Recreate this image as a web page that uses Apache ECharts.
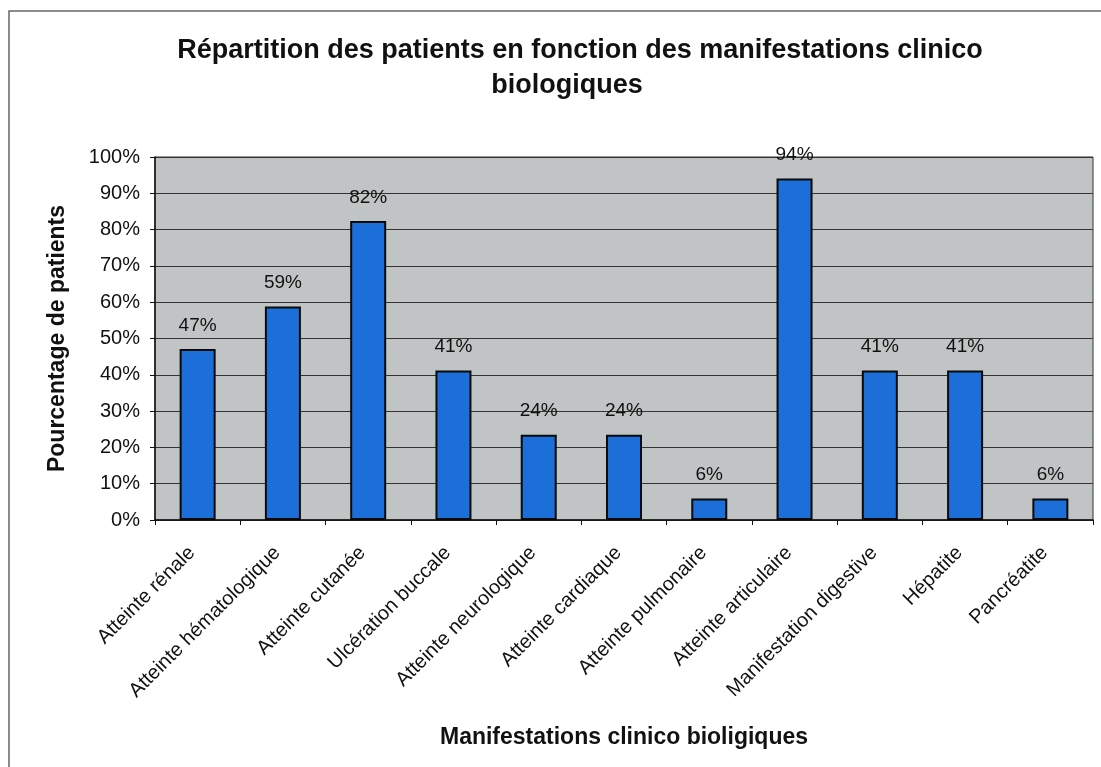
<!DOCTYPE html>
<html>
<head>
<meta charset="utf-8">
<script src="https://cdn.jsdelivr.net/npm/echarts@6/dist/echarts.min.js"></script>
<style>
  html, body { margin: 0; padding: 0; background: #fff; }
  #chart { width: 1101px; height: 767px; }
</style>
</head>
<body>
<div id="chart"></div>
<script>
// catégories et pourcentages (17 patients)
const categories = [
  'Atteinte rénale', 'Atteinte hématologique', 'Atteinte cutanée', 'Ulcération buccale',
  'Atteinte neurologique', 'Atteinte cardiaque', 'Atteinte pulmonaire', 'Atteinte articulaire',
  'Manifestation digestive', 'Hépatite', 'Pancréatite'
]
const percentages = [47.1, 58.8, 82.4, 41.2, 23.5, 23.5, 5.9, 94.1, 41.2, 41.2, 5.9]
const yTicks = [0, 10, 20, 30, 40, 50, 60, 70, 80, 90, 100]

const chart = echarts.init(document.getElementById('chart'))

const font = 'Arial, "Liberation Sans", sans-serif'
const titleStyle = { fontFamily: font, fontSize: 27, fontWeight: 'bold', color: '#111' }

const option = {
  backgroundColor: '#fff',
  animation: false,
  // titre sur deux lignes
  title: [
    { text: 'Répartition des patients en fonction des manifestations clinico', left: 575, top: 32, textAlign: 'center', textStyle: titleStyle },
    { text: 'biologiques', left: 562, top: 67, textAlign: 'center', textStyle: titleStyle }
  ],
  graphic: [
    {
      type: 'rect',
      shape: { x: 9, y: 11, width: 1200, height: 900 },
      style: { fill: 'none', stroke: '#666', lineWidth: 1.5 },
      silent: true
    }
  ],
  grid: {
    left: 155,
    right: 8,
    top: 157,
    bottom: 247,
    show: true,
    backgroundColor: '#c1c4c4',
    borderColor: '#333',
    borderWidth: 1
  },
  xAxis: {
    type: 'category',
    data: categories,
    name: 'Manifestations clinico bioligiques',
    nameLocation: 'middle',
    nameGap: 206,
    nameTextStyle: { fontFamily: font, fontSize: 23, fontWeight: 'bold', color: '#111' },
    axisLine: { lineStyle: { color: '#111', width: 1.5 } },
    axisTick: { show: true, length: 5, lineStyle: { color: '#111' } },
    axisLabel: { rotate: 45, margin: 24, padding: [0, 8, 0, 0], interval: 0, fontFamily: font, fontSize: 20, color: '#111' }
  },
  yAxis: {
    type: 'value',
    min: 0,
    max: 100,
    interval: 10,
    name: 'Pourcentage de patients',
    nameLocation: 'middle',
    nameGap: 86,
    nameTextStyle: { fontFamily: font, fontSize: 23, fontWeight: 'bold', color: '#111' },
    axisLine: { show: true, lineStyle: { color: '#111', width: 1.5 } },
    axisTick: { show: true, length: 5, lineStyle: { color: '#111' } },
    axisLabel: {
      margin: 15,
      fontFamily: font,
      fontSize: 20,
      color: '#111',
      formatter: v => (yTicks.includes(v) ? v + '%' : '')
    },
    splitLine: { show: true, lineStyle: { color: '#333', width: 1 } }
  },
  series: [
    {
      type: 'bar',
      data: percentages,
      barWidth: 36,
      itemStyle: { color: '#1c6fd9', borderColor: '#0a0a0a', borderWidth: 2 },
      label: {
        show: true,
        position: 'top',
        distance: 14,
        fontFamily: font,
        fontSize: 19,
        color: '#111',
        formatter: p => Math.round(p.value) + '%'
      }
    }
  ]
}

chart.setOption(option)
</script>
</body>
</html>
